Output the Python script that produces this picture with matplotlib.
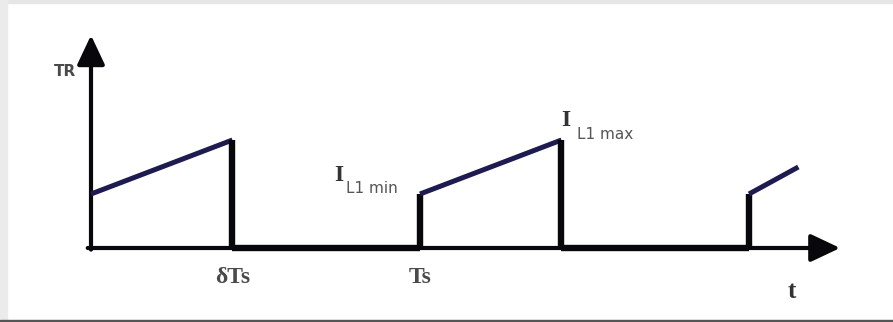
import matplotlib.pyplot as plt
from matplotlib.patches import Rectangle

# inductor current waveform, time in units of Ts, current in units of I_L1min
t_pts = [0.0, 0.43, 0.43, 1.0, 1.0, 1.43, 1.43, 2.0, 2.0, 2.15]
i_pts = [1.0, 2.0, 0.0, 0.0, 1.0, 2.0, 0.0, 0.0, 1.0, 1.5]
t_ticks = [0.43, 1.0]
t_tick_labels = ['δTs', 'Ts']

ramp_col = '#1d1b4f'
edge_col = '#08080c'
text_col = '#4a4a4a'

fig = plt.figure(figsize=(8.93, 3.22), dpi=100)
fig.patch.set_facecolor('white')

# thin frame around the picture
fig.patches.append(Rectangle((0, 0.99), 1, 0.01, transform=fig.transFigure,
                             color='#e6e6e6', zorder=0))
fig.patches.append(Rectangle((0, 0), 0.008, 1, transform=fig.transFigure,
                             color='#ebebeb', zorder=0))
fig.patches.append(Rectangle((0, 0), 1, 0.007, transform=fig.transFigure,
                             color='#555555', zorder=0))

ax = fig.add_axes([0, 0, 1, 1])
ax.set_xlim(-91 / 329, (893 - 91) / 329)
ax.set_ylim(-(322 - 248) / 54, 248 / 54)
ax.axis('off')
ax.patch.set_alpha(0)

# axes with arrow heads
arrow = dict(arrowstyle='-|>,head_length=1.8,head_width=0.85', lw=3.0,
             color=edge_col, shrinkA=0, shrinkB=0)
ax.annotate('', xy=(0, 3.94), xytext=(0, -0.03), arrowprops=arrow)
ax.annotate('', xy=(2.277, 0), xytext=(-0.01, 0), arrowprops=arrow)

# waveform: sloped parts in navy, jumps and zero intervals in black
for k in range(len(t_pts) - 1):
    t0, t1 = t_pts[k], t_pts[k + 1]
    i0, i1 = i_pts[k], i_pts[k + 1]
    sloped = t0 != t1 and i0 != i1
    ax.plot([t0, t1], [i0, i1], color=ramp_col if sloped else edge_col,
            lw=3.6 if sloped else 4.6, solid_capstyle='butt',
            solid_joinstyle='miter', zorder=3)

ax.text(-0.079, 3.26, 'TR', fontsize=11, fontweight='bold', color=text_col,
        ha='center', va='center', family='DejaVu Sans')
for t, lab in zip(t_ticks, t_tick_labels):
    ax.text(t, -0.55, lab, fontsize=17, fontweight='bold', color=text_col,
            ha='center', va='center', family='Liberation Serif')
ax.text(2.13, -0.80, 't', fontsize=18, fontweight='bold', color='#333333',
        ha='center', va='center', family='Liberation Serif')

# current labels at the ramp ends
ax.text(0.754, i_pts[4] + 0.35, 'I', fontsize=17, fontweight='bold', color='#333333',
        ha='center', va='center', family='Liberation Serif')
ax.text(0.775, i_pts[4] + 0.11, 'L1 min', fontsize=11, color='#555555',
        ha='left', va='center', family='DejaVu Sans')
ax.text(1.444, i_pts[5] + 0.37, 'I', fontsize=17, fontweight='bold', color='#333333',
        ha='center', va='center', family='Liberation Serif')
ax.text(1.477, i_pts[5] + 0.11, 'L1 max', fontsize=11, color='#555555',
        ha='left', va='center', family='DejaVu Sans')

fig.savefig('out.png', dpi=100)
